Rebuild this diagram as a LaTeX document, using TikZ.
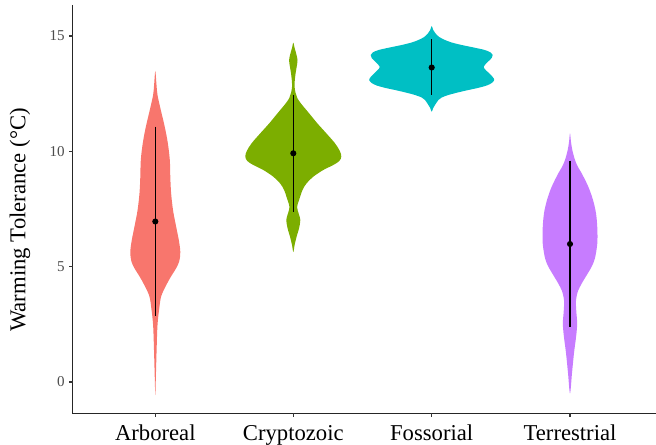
\documentclass[tikz,border=0pt]{standalone}
\usepackage{fontspec}
\setmainfont{Liberation Serif}
\usepackage{tikz}
\usetikzlibrary{calc}

\definecolor{arbcol}{HTML}{F8766D}
\definecolor{cryptcol}{HTML}{7CAE00}
\definecolor{fosscol}{HTML}{00BFC4}
\definecolor{terrcol}{HTML}{C77CFF}
\definecolor{tickcol}{HTML}{333333}
\definecolor{ticklabcol}{HTML}{4D4D4D}

\tikzset{
  axisline/.style={line width=0.8pt, black!85},
  tickmark/.style={line width=0.8pt, tickcol},
  ticklab/.style={anchor=east, inner sep=0pt, text=ticklabcol, font=\fontsize{11.3}{13}\selectfont},
  catlab/.style={anchor=base, inner sep=0pt, font=\fontsize{17}{20}\selectfont},
  medline/.style={line width=0.9pt, black},
  meddot/.style={circle, fill=black, inner sep=0pt, minimum size=4.6pt},
}

\begin{document}
\begin{tikzpicture}[x=0.75pt,y=0.75pt,yscale=-1,xscale=1]
    \useasboundingbox (0,0) rectangle (656,445);

    %Violin [Arboreal]
    \fill[arbcol] plot[smooth cycle, tension=0.55] coordinates {
      (155.3,71) (156.5,85) (157.5,95) (160.8,110) (164.8,127) (167.8,143) (169.8,160) (170.3,177)
      (171.1,193) (173,210) (175.8,225) (178.8,240) (180.3,252) (179.3,261) (176.3,268) (171.3,276)
      (166.3,285) (161.3,296) (159.3,308) (157.5,325) (156.6,350) (155.9,375)
      (155.3,395)
      (154.7,375) (154,350) (153.1,325) (151.3,308) (149.3,296) (144.3,285) (139.3,276) (134.3,268)
      (131.3,261) (130.3,252) (131.8,240) (134.8,225) (137.6,210) (139.5,193) (140.3,177) (140.8,160)
      (142.8,143) (145.8,127) (149.8,110) (153.1,95) (154.1,85)};

    %Violin [Cryptozoic]
    \fill[cryptcol] plot[smooth cycle, tension=0.55] coordinates {
      (293.3,42.7) (294.6,48) (296.3,54) (297.5,60) (296.8,66) (295.8,72) (294.8,80) (294.6,87)
      (295.6,93) (297.3,98) (300.8,103.3) (309.1,113.3) (317.3,123.3) (326.3,133.3) (335,143.3)
      (339.8,151) (341.3,156.5) (339.3,161) (333.3,165) (323.3,170) (313.3,176.7) (306.6,183.3)
      (302.5,190) (299.1,200) (297.1,207) (298.8,214) (300.3,220) (299.1,228) (296.5,237) (294.6,245)
      (293.3,252)
      (292,245) (290.1,237) (287.5,228) (286.3,220) (287.8,214) (289.5,207) (287.5,200) (284.1,190)
      (280,183.3) (273.3,176.7) (263.3,170) (253.3,165) (247.3,161) (245.3,156.5) (246.8,151)
      (251.6,143.3) (260.3,133.3) (269.3,123.3) (277.5,113.3) (285.8,103.3) (289.3,98) (291,93)
      (292,87) (291.8,80) (290.8,72) (289.8,66) (289.1,60) (290.3,54) (292,48)};

    %Violin [Fossorial]
    \fill[fosscol] plot[smooth cycle, tension=0.55] coordinates {
      (431.7,26) (433.2,30) (435.4,33.3) (439.2,37) (445,40) (451.7,42.5) (461.7,45) (473.7,47.5)
      (484.7,50) (490.7,52.5) (492.7,55) (491.7,58) (487.7,62) (483.7,66.7) (485.7,70) (489.2,73.3)
      (492.7,77) (494.2,80) (491.7,83) (486.7,85.5) (477.7,88) (468.4,90) (457.7,92.5) (448.4,95)
      (441.7,97.5) (438.4,100) (435,105) (433.2,108)
      (431.7,111.7)
      (430.2,108) (428.4,105) (425,100) (421.7,97.5) (415,95) (405.7,92.5) (395,90) (385.7,88)
      (376.7,85.5) (371.7,83) (369.2,80) (370.7,77) (374.2,73.3) (377.7,70) (379.7,66.7) (375.7,62)
      (371.7,58) (370.7,55) (372.7,52.5) (378.7,50) (389.7,47.5) (401.7,45) (411.7,42.5) (418.4,40)
      (424.2,37) (428,33.3) (430.2,30)};

    %Violin [Terrestrial]
    \fill[terrcol] plot[smooth cycle, tension=0.55] coordinates {
      (570,133.3) (571,142) (572.3,150) (575,160) (578,167) (581.7,173.3) (588.3,186.7) (593,200)
      (596,213.3) (597.3,228) (597.3,243.3) (595,258) (592,266) (588,273) (582,283) (578,291)
      (576.3,298) (575.9,304) (576.5,314) (577.2,323) (576.5,333) (575.7,340) (574,353) (572,373)
      (570,393.3)
      (568,373) (566,353) (564.3,340) (563.5,333) (562.8,323) (563.5,314) (564.1,304) (563.7,298)
      (562,291) (558,283) (552,273) (548,266) (545,258) (542.7,243.3) (542.7,228) (544,213.3)
      (547,200) (551.7,186.7) (558.3,173.3) (562,167) (565,160) (567.7,150) (569,142)};

    %Median bars with dots
    \foreach \nm/\xc/\hi/\md/\lo in {arb/155.3/126.7/221.5/316,
                                     crypt/293.3/95/153.3/212,
                                     foss/431.7/39.3/67.5/95.3,
                                     terr/570/160.7/244/327.3}{
      \coordinate (\nm hi) at (\xc,\hi);
      \coordinate (\nm lo) at (\xc,\lo);
      \draw[medline] (\nm hi) -- (\nm lo);
      \node[meddot] (\nm med) at (\xc,\md) {};
    }

    %Axes
    \coordinate (ytop) at (72.5,5);
    \coordinate (orig) at (72.5,413.3);
    \coordinate (xend) at (656,413.3);
    \draw[axisline] (ytop) -- (orig) -- (xend);

    %Y ticks
    \foreach \v/\yp in {0/382,5/266.7,10/151.3,15/36}{
      \draw[tickmark] (69,\yp) -- (72.5,\yp);
      \node[ticklab] (ytick\v) at (65,\yp) {\v};
    }

    %X ticks and category labels
    \foreach \nm/\xc/\lab in {arb/155.3/Arboreal, crypt/293.3/Cryptozoic, foss/431.7/Fossorial, terr/570/Terrestrial}{
      \draw[tickmark] (\xc,413.3) -- (\xc,417);
      \node[catlab] (\nm lab) at (\xc,440) {\lab};
    }

    %Y axis title
    \node[rotate=90, inner sep=0pt, font=\fontsize{17}{20}\selectfont] (ytitle) at (20,220) {Warming Tolerance (°C)};

\end{tikzpicture}
\end{document}
